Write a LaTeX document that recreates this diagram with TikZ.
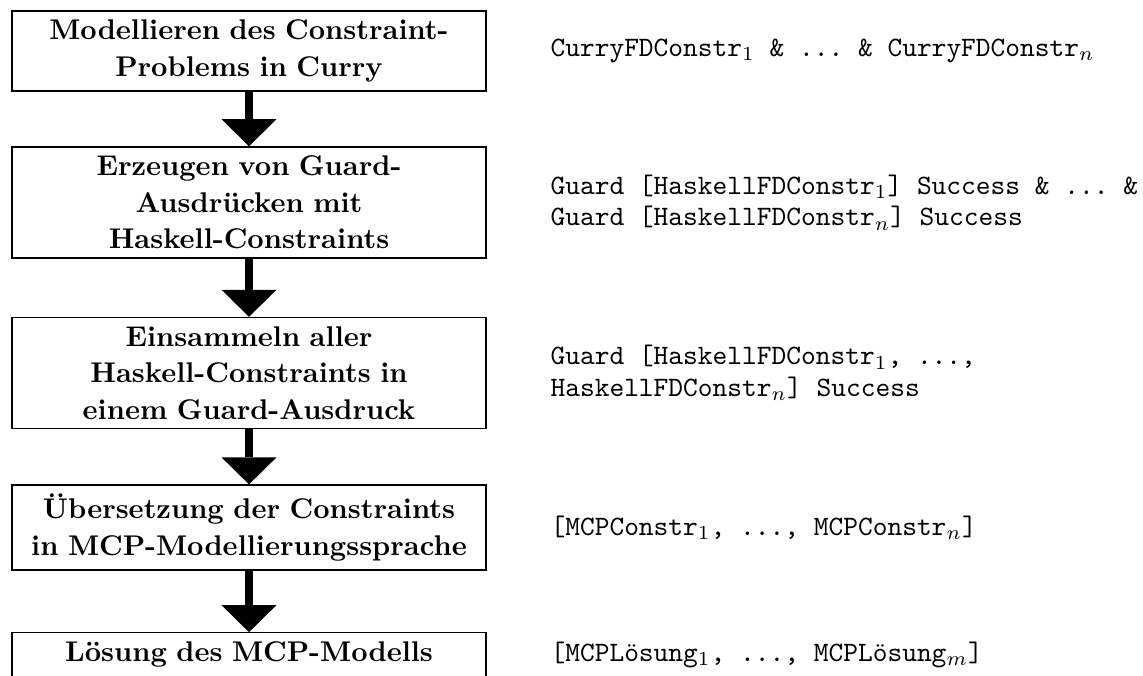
\documentclass[tikz,border=0pt]{standalone}
\usetikzlibrary{arrows.meta}
\begin{document}
\begin{tikzpicture}[x=0.3509pt,y=-0.3509pt,
  stepbox/.style={draw, line width=0.45pt, text width=160pt, inner sep=3.16pt, align=center,
    font=\fontsize{10}{12.8}\selectfont\bfseries},
  codetext/.style={anchor=west, inner sep=0pt, align=left,
    font=\fontsize{9.85}{11.05}\selectfont\ttfamily\frenchspacing},
  flow/.style={line width=2.8pt, -{Triangle[width=19.3pt,length=9.5pt,line width=0pt]}}]
\useasboundingbox (0,0) rectangle (1143,675);
\node[stepbox] (s1) at (249,51) {Modellieren des Constraint-\\Problems in Curry};
\node[stepbox] (s2) at (249,202.5) {Erzeugen von Guard-\\Ausdrücken mit\\Haskell-Constraints};
\node[stepbox] (s3) at (249,373) {Einsammeln aller\\Haskell-Constraints in\\einem Guard-Ausdruck};
\node[stepbox] (s4) at (249,527.5) {Übersetzung der Constraints\\in MCP-Modellierungssprache};
\node[stepbox] (s5) at (249,654.6) {Lösung des MCP-Modells};
\draw[flow] (s1.south) -- (s2.north);
\draw[flow] (s2.south) -- (s3.north);
\draw[flow] (s3.south) -- (s4.north);
\draw[flow] (s4.south) -- (s5.north);
\node[codetext] (r1) at (550,51) {CurryFDConstr$_1$ \& ... \& CurryFDConstr$_n$};
\node[codetext] (r2) at (550,202.5) {Guard [HaskellFDConstr$_1$] Success \& ... \&\\Guard [HaskellFDConstr$_n$] Success};
\node[codetext] (r3) at (550,373) {Guard [HaskellFDConstr$_1$, ...,\\HaskellFDConstr$_n$] Success};
\node[codetext] (r4) at (550,527.5) {[MCPConstr$_1$, ..., MCPConstr$_n$]};
\node[codetext] (r5) at (550,654.6) {[MCPLösung$_1$, ..., MCPLösung$_m$]};
\end{tikzpicture}
\end{document}
